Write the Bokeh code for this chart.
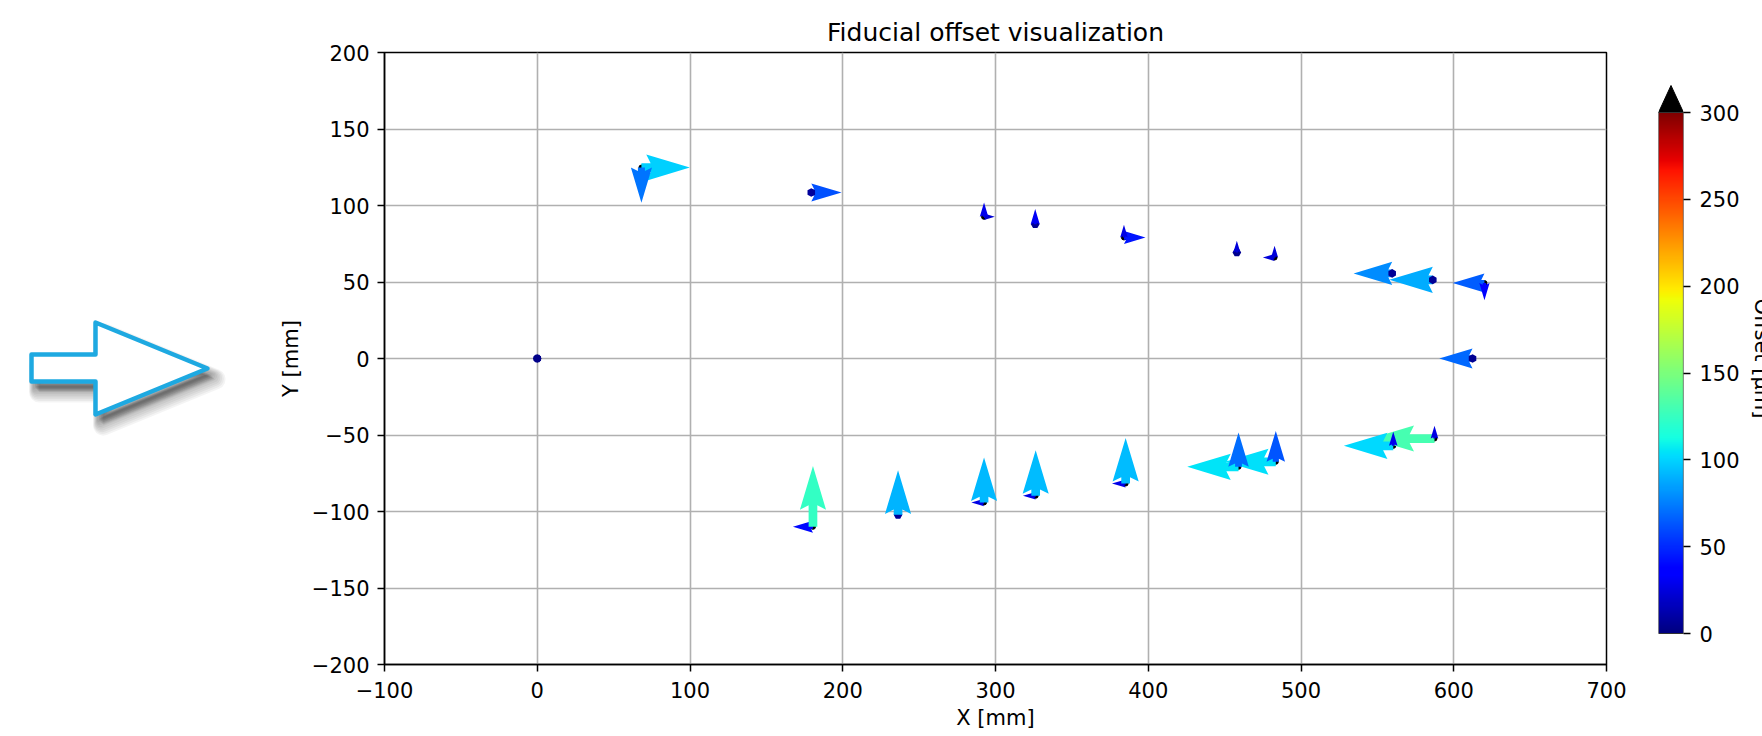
import numpy as np
from bokeh.plotting import figure
from bokeh.models import Range1d, FixedTicker, LinearColorMapper, ColumnDataSource
from bokeh.layouts import row
from bokeh.embed import file_html
from bokeh.resources import INLINE

# ---------------- data ----------------
fid_x = [0.0, 68.2, 179.4, 292.5, 326.0, 384.1, 458.0, 482.7, 559.7, 586.3, 620.1, 612.3,
         587.4, 560.4, 483.5, 459.1, 385.2, 326.3, 292.5, 236.2, 180.5]
fid_y = [0.0, 124.8, 108.5, 92.6, 87.8, 79.1, 69.3, 66.0, 55.6, 51.4, 49.3, 0.0,
         -52.3, -57.1, -67.5, -70.8, -81.7, -89.7, -94.1, -102.2, -110.0]
offset_x_um = [3, 99, 62, 22, 5, 44, 4, -24, -79, -89, -65, -68,
               -131, -101, -104, -105, -28, -26, -26, 6, -41]
offset_y_um = [3, -72, 8, 29, 31, 26, 24, 24, 6, 7, -35, 5,
               26, 29, 63, 70, 93, 93, 92, 91, 124]

x_ticks = [-100, 0, 100, 200, 300, 400, 500, 600, 700]
x_tick_labels = ["\u2212100", "0", "100", "200", "300", "400", "500", "600", "700"]
y_ticks = [-200, -150, -100, -50, 0, 50, 100, 150, 200]
y_tick_labels = ["\u2212200", "\u2212150", "\u2212100", "\u221250", "0", "50", "100", "150", "200"]
cbar_ticks = [0, 50, 100, 150, 200, 250, 300]
cbar_low, cbar_high = 0, 300

# ---------------- style / geometry ----------------
FONT = "DejaVu Sans"
ARROW_SCALE = 0.32     # mm of arrow per um of offset
SHAFT_W = 5.7          # quiver shaft width in mm (data units)
BORDER_TOP, FRAME_H, BORDER_BOTTOM = 52, 612, 64


def jet(t):
    t = np.clip(np.asarray(t, dtype=float), 0, 1)
    r = np.interp(t, [0, 0.35, 0.66, 0.89, 1], [0, 0, 1, 1, 0.5])
    g = np.interp(t, [0, 0.125, 0.375, 0.64, 0.91, 1], [0, 0, 1, 1, 0, 0])
    b = np.interp(t, [0, 0.11, 0.34, 0.65, 1], [0.5, 1, 1, 0, 0])
    return r, g, b


_r, _g, _b = jet(np.linspace(0, 1, 256))
JET = ["#%02x%02x%02x" % (int(round(a * 255)), int(round(b_ * 255)), int(round(c * 255)))
       for a, b_, c in zip(_r, _g, _b)]
mapper = LinearColorMapper(palette=JET, low=cbar_low, high=cbar_high)


def quiver_poly(x0, y0, length, angle, w):
    """matplotlib quiver arrow (pivot tail, headwidth 3, headlength 5, headaxislength 4.5)."""
    lw = abs(length) / w
    minsh = 5.0
    if lw < 1.0:
        th = np.arange(8) * np.pi / 3.0
        X = np.cos(th) * 0.5
        Y = np.sin(th) * 0.5
    elif lw < minsh:
        k = lw / minsh
        X = k * np.array([0, 0.5, 0, 5, 0, 0.5, 0, 0])
        Y = k * np.array([0.5, 0.5, 1.5, 0, -1.5, -0.5, -0.5, 0.5])
    else:
        X = np.array([0, lw - 4.5, lw - 5, lw, lw - 5, lw - 4.5, 0, 0])
        Y = np.array([0.5, 0.5, 1.5, 0, -1.5, -0.5, -0.5, 0.5])
    c, s = np.cos(angle), np.sin(angle)
    return list(x0 + w * (X * c - Y * s)), list(y0 + w * (X * s + Y * c))


def build_source(comp, horizontal):
    xs, ys, mag = [], [], []
    for x0, y0, v in zip(fid_x, fid_y, comp):
        if horizontal:
            ang = 0.0 if v >= 0 else np.pi
        else:
            ang = np.pi / 2 if v >= 0 else -np.pi / 2
        px, py = quiver_poly(x0, y0, v * ARROW_SCALE, ang, SHAFT_W)
        xs.append(px)
        ys.append(py)
        mag.append(abs(v))
    return ColumnDataSource(dict(xs=xs, ys=ys, mag=mag))


# ---------------- decorative arrow (left) ----------------
deco = figure(frame_width=275, frame_height=FRAME_H, x_range=Range1d(0, 275),
              y_range=Range1d(664, 52), output_backend="svg", toolbar_location=None,
              min_border_left=0, min_border_right=0, min_border_top=BORDER_TOP,
              min_border_bottom=BORDER_BOTTOM, x_axis_location=None, y_axis_location=None)
deco.grid.visible = False
deco.outline_line_color = None
DECO_X = np.array([31, 95, 95, 207, 95, 95, 31])
DECO_Y = np.array([354, 354, 322, 368, 414, 381, 381])
for k in range(9):
    deco.patch(list(DECO_X + 3 + 0.6 * k), list(DECO_Y + 6 + 0.6 * k), fill_color="black",
               fill_alpha=0.045, line_color="black", line_alpha=0.045, line_width=3 + 2.2 * k,
               line_join="round")
deco.patch(list(DECO_X), list(DECO_Y), fill_color="white", line_color="#1ea9e1",
           line_width=4.5, line_join="round")

# ---------------- main plot ----------------
p = figure(frame_width=1222, frame_height=FRAME_H, x_range=Range1d(-100, 700),
           y_range=Range1d(-200, 200), output_backend="svg", toolbar_location=None,
           min_border_left=108, min_border_right=20, min_border_top=BORDER_TOP,
           min_border_bottom=BORDER_BOTTOM, title="Fiducial offset visualization")
p.title.text_font = FONT
p.title.text_font_size = "25px"
p.title.text_font_style = "normal"
p.title.align = "center"
p.title.text_color = "black"
p.title.standoff = 11

p.xaxis.ticker = FixedTicker(ticks=x_ticks)
p.xaxis.major_label_overrides = dict(zip(x_ticks, x_tick_labels))
p.yaxis.ticker = FixedTicker(ticks=y_ticks)
p.yaxis.major_label_overrides = dict(zip(y_ticks, y_tick_labels))
p.xaxis.axis_label = "X [mm]"
p.yaxis.axis_label = "Y [mm]"
for ax in (p.xaxis, p.yaxis):
    ax.major_label_text_font = FONT
    ax.major_label_text_font_size = "21px"
    ax.major_label_text_color = "black"
    ax.axis_label_text_font = FONT
    ax.axis_label_text_font_size = "21px"
    ax.axis_label_text_font_style = "normal"
    ax.axis_label_text_color = "black"
    ax.major_tick_out = 7
    ax.major_tick_in = 0
    ax.minor_tick_out = 0
    ax.minor_tick_in = 0
    ax.major_tick_line_width = 1.5
    ax.axis_line_width = 1.5
    ax.axis_line_color = "black"
p.xaxis.major_label_standoff = 10
p.xaxis.axis_label_standoff = 5
p.yaxis.major_label_standoff = 8
p.yaxis.axis_label_standoff = 6
p.grid.grid_line_color = "#b0b0b0"
p.grid.grid_line_width = 1.6
p.xgrid.ticker = FixedTicker(ticks=x_ticks)
p.ygrid.ticker = FixedTicker(ticks=y_ticks)
p.outline_line_color = "black"
p.outline_line_width = 1.5
p.outline_line_alpha = 1.0

p.scatter(fid_x, fid_y, size=5, color="black")
src_h = build_source(offset_x_um, True)
src_v = build_source(offset_y_um, False)
p.patches("xs", "ys", source=src_h, fill_color={"field": "mag", "transform": mapper},
          line_color=None)
p.patches("xs", "ys", source=src_v, fill_color={"field": "mag", "transform": mapper},
          line_color=None)

# ---------------- colorbar ----------------
px_per_unit = 521.0 / (cbar_high - cbar_low)
cb_lo = cbar_low - (664 - 633) / px_per_unit
cb_hi = cbar_high + (112 - 52) / px_per_unit
ext = (112 - 85) / px_per_unit
cb = figure(frame_width=25, frame_height=FRAME_H, x_range=Range1d(0, 1),
            y_range=Range1d(cb_lo, cb_hi), output_backend="svg",
            toolbar_location=None, min_border_left=32, min_border_right=0,
            min_border_top=BORDER_TOP, min_border_bottom=BORDER_BOTTOM, x_axis_location=None,
            y_axis_location="right")
cb.grid.visible = False
cb.outline_line_color = None
cb.image(image=[np.linspace(cbar_low, cbar_high, 256).reshape(256, 1)], x=0, y=cbar_low,
         dw=1, dh=cbar_high - cbar_low, color_mapper=mapper)
cb.patch([0, 1, 0.5], [cbar_high, cbar_high, cbar_high + ext], fill_color="black",
         line_color="black", line_width=1)
cb.patch([0, 1, 1, 0], [cbar_low, cbar_low, cbar_high, cbar_high], fill_color=None,
         line_color="#333333", line_width=1.2)
cb.yaxis.ticker = FixedTicker(ticks=cbar_ticks)
cb.yaxis.axis_line_color = None
cb.yaxis.major_tick_out = 7
cb.yaxis.major_tick_in = 0
cb.yaxis.minor_tick_out = 0
cb.yaxis.minor_tick_in = 0
cb.yaxis.major_tick_line_width = 1.5
cb.yaxis.major_label_standoff = 9
cb.yaxis.major_label_text_font = FONT
cb.yaxis.major_label_text_font_size = "21px"
cb.yaxis.major_label_text_color = "black"
cb.yaxis.axis_label = "Offset [\u00b5m]"
cb.yaxis.axis_label_text_font = FONT
cb.yaxis.axis_label_text_font_size = "21px"
cb.yaxis.axis_label_text_font_style = "normal"
cb.yaxis.axis_label_text_color = "black"
cb.yaxis.axis_label_standoff = 7
_cb_axis = cb.yaxis[0]
if "axis_label_orientation" in _cb_axis.properties():
    _cb_axis.axis_label_orientation = "vertical"

layout = row(deco, p, cb)
open("out.html", "w").write(file_html(layout, INLINE))
